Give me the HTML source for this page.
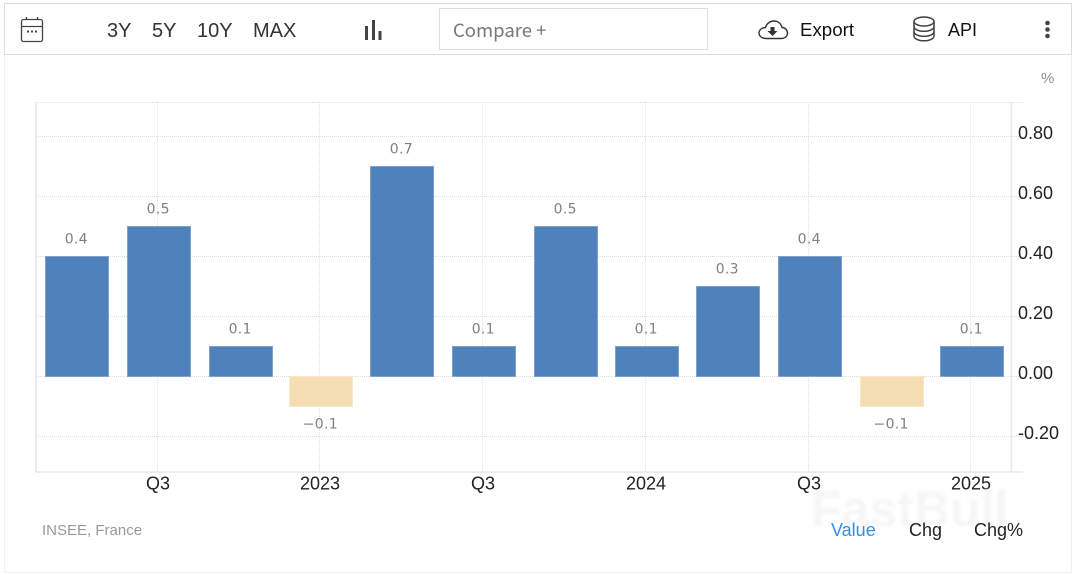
<!DOCTYPE html>
<html lang="en">
<head>
<meta charset="utf-8">
<title>France GDP growth chart</title>
<style>
  html, body { margin: 0; padding: 0; background: #fff; }
  body { width: 1075px; height: 575px; overflow: hidden; position: relative; font-family: "Liberation Sans", sans-serif; }
  svg { position: absolute; left: 0; top: 0; display: block; }
  text { font-family: "Liberation Sans", sans-serif; }
</style>
</head>
<body>
<svg id="chart" width="1075" height="575" viewBox="0 0 1075 575">
  <rect x="4.5" y="3.5" width="1067" height="569" fill="#fff" stroke="#f0f0f0"/>
  <rect x="4.5" y="3.5" width="1067" height="51" fill="#fff" stroke="#dcdcdc"/>

  <g fill="none" stroke="#444" stroke-width="1.3">
    <rect x="21.5" y="19.5" width="21" height="22" rx="2"/>
    <path d="M21.5 26.5H42.5M26.5 17V20M37.5 17V20"/>
    <path d="M27 31.5h2M31 31.5h2M35 31.5h2" stroke-width="2"/>
  </g>
  <text x="107" y="37" font-size="20" fill="#333">3Y</text>
  <text x="152" y="37" font-size="20" fill="#333">5Y</text>
  <text x="197" y="37" font-size="20" fill="#333">10Y</text>
  <text x="253" y="37" font-size="20" fill="#333">MAX</text>
  <g fill="#444">
    <rect x="365" y="26" width="3" height="14"/>
    <rect x="372" y="20" width="3" height="20"/>
    <rect x="378.500" y="31" width="3" height="9"/>
  </g>
  <rect x="439.5" y="8.5" width="268" height="41" fill="#fff" stroke="#dedede"/>
  <text x="453" y="37" font-size="18.500" fill="#777" style='font-family:"Noto Sans CJK SC","Liberation Sans",sans-serif'>Compare +</text>

  <g>
    <path d="M766 38.500h15c4 0 6.500-2.500 6.500-5.500s-2.500-5.500-5.500-5.500c-1-4-4-6.500-8-6.500-4.500 0-7.500 3-8.500 6.500-3.500 0-6.500 2.500-6.500 5.500s3 5.500 7 5.500z" fill="none" stroke="#333" stroke-width="1.400"/>
    <path d="M770.500 27h4v4h3l-5 5-5-5h3z" fill="#333"/>
  </g>
  <text x="800" y="36" font-size="18.700" fill="#111">Export</text>
  <g fill="none" stroke="#444" stroke-width="1.500">
    <ellipse cx="924" cy="21.500" rx="10" ry="4.500"/>
    <path d="M914 21.500V36c0 2.800 4.500 4.800 10 4.800s10-2 10-4.800V21.500"/>
    <path d="M914 26.500c0 2.800 4.500 4.800 10 4.800s10-2 10-4.800M914 31.500c0 2.800 4.500 4.800 10 4.800s10-2 10-4.800"/>
  </g>
  <text x="948" y="36" font-size="18" fill="#111">API</text>
  <g fill="#444">
    <circle cx="1047.500" cy="23" r="2.300"/>
    <circle cx="1047.500" cy="29.500" r="2.300"/>
    <circle cx="1047.500" cy="36" r="2.300"/>
  </g>

  <text x="1041" y="83" font-size="15" fill="#8c8c8c">%</text>

  <g id="grid"></g>
  <g id="bars"></g>
  <g id="axes"></g>
  <g id="labels"></g>

  <text x="811" y="526" font-size="50" font-weight="bold" fill="#f6f6f6" style="filter:blur(1.2px)">FastBull</text>

  <text x="42" y="535" font-size="15" fill="#999">INSEE, France</text>
  <text x="831" y="536" font-size="18" fill="#2e8fef">Value</text>
  <text x="909" y="536" font-size="18" fill="#222">Chg</text>
  <text x="974" y="536" font-size="18" fill="#222">Chg%</text>
</svg>
<script>
const quarterEnds = ["2022-06-30","2022-09-30","2022-12-31","2023-03-31","2023-06-30","2023-09-30","2023-12-31","2024-03-31","2024-06-30","2024-09-30","2024-12-31","2025-03-31"];
const growthValues = [0.4,0.5,0.1,-0.1,0.7,0.1,0.5,0.1,0.3,0.4,-0.1,0.1];
const yTicks = [0.8,0.6,0.4,0.2,0,-0.2];
const yTickLabels = ["0.80","0.60","0.40","0.20","0.00","-0.20"];
const xTickLabels = ["Q3","2023","Q3","2024","Q3","2025"];
const xTickGridDates = ["2022-09-30","2023-03-31","2023-09-30","2024-03-31","2024-09-30","2025-03-31"];

const NS = 'http://www.w3.org/2000/svg';
const PLOT = { left: 36, right: 1011.5, top: 102, bottom: 472, outer: 1023 };
const firstDay = Date.parse(quarterEnds[0]);
const lastDay = Date.parse(quarterEnds[quarterEnds.length - 1]);
function xScale(dateStr) {
  return 77 + (Date.parse(dateStr) - firstDay) / (lastDay - firstDay) * 895;
}
function yScale(v) {
  return 376.5 - v * 300;
}
function make(tag, attrs, parent) {
  const el = document.createElementNS(NS, tag);
  Object.keys(attrs).forEach(function (k) { el.setAttribute(k, attrs[k]); });
  parent.appendChild(el);
  return el;
}
const grid = document.getElementById('grid');
const bars = document.getElementById('bars');
const axes = document.getElementById('axes');
const labels = document.getElementById('labels');
const gridDash = { stroke: '#dedede', 'stroke-width': 1, 'stroke-dasharray': '1 1' };

const topLine = make('line', Object.assign({ x1: PLOT.left, x2: PLOT.outer, y1: PLOT.top + 0.5, y2: PLOT.top + 0.5 }, gridDash), grid);



yTicks.forEach(function (v, i) {
  const y = Math.floor(yScale(v)) + 0.5;
  const line = make('line', Object.assign({ x1: PLOT.left, x2: PLOT.outer, y1: y, y2: y }, gridDash), grid);
  
  
  const t = make('text', { x: 1018, y: yScale(v) + 2.5, 'font-size': 18, fill: '#222' }, axes);
  t.textContent = yTickLabels[i];
  
  
});

xTickGridDates.forEach(function (d, i) {
  const x = Math.round(xScale(d)) - 1.5;
  const line = make('line', Object.assign({ x1: x, x2: x, y1: PLOT.top, y2: PLOT.bottom }, gridDash), grid);
  
  
  const t = make('text', { x: x + 0.5, y: 489.5, 'font-size': 18, fill: '#222', 'text-anchor': 'middle' }, axes);
  t.textContent = xTickLabels[i];
  
  
});

growthValues.forEach(function (v, i) {
  const cx = xScale(quarterEnds[i]);
  const y0 = yScale(0);
  const yv = yScale(v);
  const rect = make('rect', {
    x: Math.round(cx - 32) + 0.5,
    y: Math.min(y0, yv),
    width: 63,
    height: Math.abs(yv - y0),
    fill: v >= 0 ? '#4f81bd' : '#f5deb3',
    stroke: v >= 0 ? '#7fa3cf' : '#f8e7c8',
    'stroke-width': 1
  }, bars);
  
  
  const t = make('text', {
    x: cx - 0.7,
    y: v >= 0 ? yv - 13 : yv + 22,
    'font-size': 14,
    fill: '#808080',
    'letter-spacing': 0.3,
    'text-anchor': 'middle'
  }, labels);
  t.style.fontFamily = '"DejaVu Sans", sans-serif';
  t.textContent = (v < 0 ? '\u2212' : '') + Math.abs(v).toFixed(1);
  
  
});

const leftAxis = make('line', { x1: PLOT.left, x2: PLOT.left, y1: PLOT.top, y2: PLOT.bottom, stroke: '#e6e6e6', 'stroke-width': 1.5 }, axes);


const rightAxis = make('line', { x1: PLOT.right, x2: PLOT.right, y1: PLOT.top, y2: PLOT.bottom, stroke: '#e8e8e8', 'stroke-width': 1.5 }, axes);


const bottomAxis = make('line', { x1: PLOT.left, x2: PLOT.outer, y1: PLOT.bottom, y2: PLOT.bottom, stroke: '#e6e6e6', 'stroke-width': 1.5 }, axes);


</script>
</body>
</html>
